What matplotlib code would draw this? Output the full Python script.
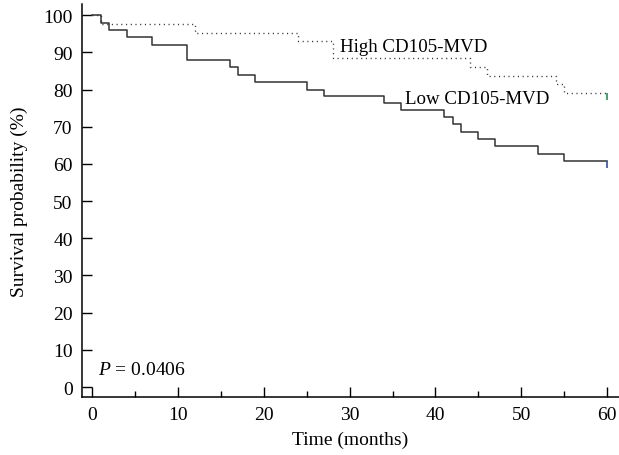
import matplotlib
matplotlib.use('Agg')
import matplotlib.pyplot as plt
from matplotlib.ticker import MultipleLocator

plt.rcParams['font.family'] = ['Liberation Serif', 'DejaVu Serif']
plt.rcParams['mathtext.fontset'] = 'custom'
plt.rcParams['mathtext.it'] = 'Liberation Serif:italic'
plt.rcParams['mathtext.rm'] = 'Liberation Serif'

# Kaplan-Meier steps (time in months, survival in %)
high_t = [0, 1, 12, 24, 28, 44, 46, 54, 55, 60]
high_s = [100, 97.7, 95.3, 93.0, 88.4, 86.0, 83.7, 81.4, 79.1, 79.1]

low_t = [0, 1, 2, 4, 7, 11, 16, 17, 19, 25, 27, 34, 36, 41, 42, 43, 45, 47, 52, 55, 60]
low_s = [100, 98, 96, 94, 92, 88, 86, 84, 82, 80, 78.2, 76.4, 74.5, 72.6, 70.7,
         68.7, 66.7, 64.7, 62.7, 60.8, 60.8]

fig = plt.figure(figsize=(6.19, 4.56), dpi=100)
ax = fig.add_axes([0.132, 0.127, 0.868, 0.862])

ax.step(high_t, high_s, where='post', color='#333333', lw=1.0,
        linestyle=(0, (0.8, 2.6)))
ax.step(low_t, low_s, where='post', color='#333333', lw=1.1)

# censor marks at end of follow-up
ax.vlines(high_t[-1], high_s[-1] - 2, high_s[-1], color='#2e8b57', lw=1.2)
ax.vlines(low_t[-1], low_s[-1] - 2, low_s[-1], color='#3a4fa0', lw=1.2)

ax.text(28.9, 91.7, 'High CD105-MVD', fontsize=13.6, va='center', ha='left')
ax.text(36.5, 77.7, 'Low CD105-MVD', fontsize=13.6, va='center', ha='left')
ax.text(0.7, 4.8, r'$P$ = 0.0406', fontsize=14, va='center', ha='left')

ax.set_xlim(-1.24, 61.4)
ax.set_ylim(-2.7, 103)
ax.xaxis.set_major_locator(MultipleLocator(10))
ax.xaxis.set_minor_locator(MultipleLocator(5))
ax.yaxis.set_major_locator(MultipleLocator(10))

for s in ['top', 'right']:
    ax.spines[s].set_visible(False)
for s in ['left', 'bottom']:
    ax.spines[s].set_linewidth(1.1)

ax.tick_params(axis='both', which='major', direction='in', length=7.2, width=1.0,
               labelsize=14, pad=6.5)
ax.tick_params(axis='x', which='minor', direction='in', length=4.3, width=1.0)

ax.set_xlabel('Time (months)', fontsize=14)
ax.set_ylabel('Survival probability (%)', fontsize=14)
ax.xaxis.set_label_coords(0.5, -0.086)
ax.yaxis.set_label_coords(-0.1, 0.5)

fig.savefig('out.png', dpi=100)
